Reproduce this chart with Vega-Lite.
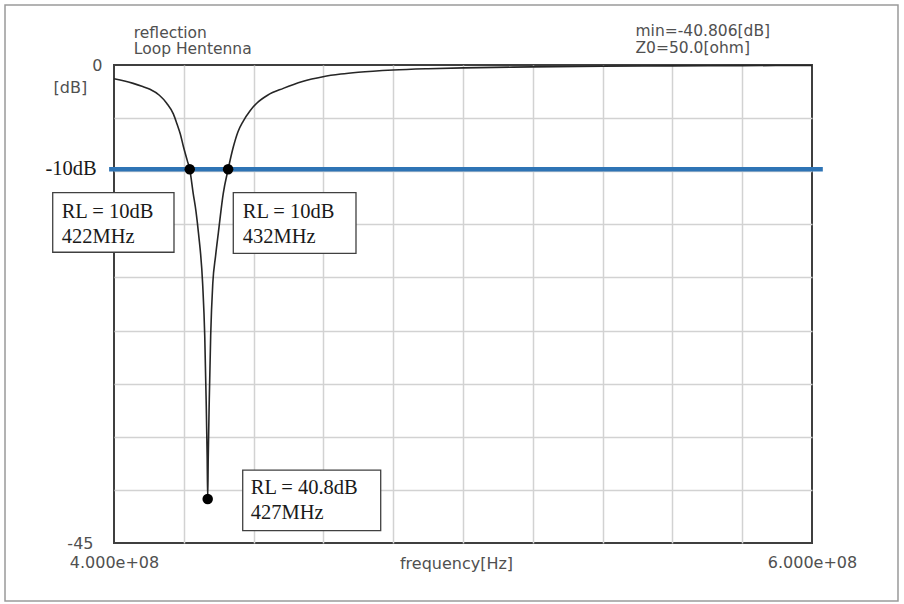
{
  "$schema": "https://vega.github.io/schema/vega-lite/v6.json",
  "width": 698,
  "height": 478,
  "autosize": {"type": "none"},
  "padding": {"left": 114, "top": 65, "right": 92, "bottom": 61},
  "background": "white",
  "config": {
    "view": {"stroke": "#3f3f3f", "strokeWidth": 2},
    "axis": {"labelFont": "DejaVu Sans", "titleFont": "DejaVu Sans", "labelFontSize": 16, "titleFontSize": 16, "labelColor": "#505050", "titleColor": "#505050", "titleFontWeight": "normal", "ticks": false, "tickSize": 0, "domain": false}
  },
  "datasets": {
    "curve": [
      {"f": 400, "db": -1.3}, {"f": 403, "db": -1.5}, {"f": 405.5, "db": -1.73}, {"f": 408, "db": -2.0},
      {"f": 410.3, "db": -2.29}, {"f": 413, "db": -2.85}, {"f": 415.1, "db": -3.6}, {"f": 417, "db": -4.6},
      {"f": 418, "db": -5.5}, {"f": 419, "db": -6.5}, {"f": 419.9, "db": -7.7}, {"f": 421, "db": -9.0},
      {"f": 421.7, "db": -9.82}, {"f": 422.7, "db": -12.1}, {"f": 423.5, "db": -13.8}, {"f": 424.2, "db": -15.8},
      {"f": 425.4, "db": -20.6}, {"f": 426, "db": -25.5}, {"f": 426.4, "db": -31.5}, {"f": 426.7, "db": -37},
      {"f": 426.85, "db": -40.85}, {"f": 427.0, "db": -37}, {"f": 427.3, "db": -31.5}, {"f": 427.7, "db": -25.5},
      {"f": 428.3, "db": -20.6}, {"f": 429.1, "db": -18.0}, {"f": 429.9, "db": -15.8}, {"f": 431.3, "db": -12.1},
      {"f": 432.7, "db": -9.82}, {"f": 434.2, "db": -7.7}, {"f": 435.5, "db": -6.3}, {"f": 437, "db": -5.3},
      {"f": 439, "db": -4.3}, {"f": 440.9, "db": -3.6}, {"f": 444, "db": -2.85}, {"f": 448.5, "db": -2.2},
      {"f": 454, "db": -1.55}, {"f": 459.9, "db": -1.1}, {"f": 465, "db": -0.85}, {"f": 470, "db": -0.68},
      {"f": 480, "db": -0.47}, {"f": 490, "db": -0.35}, {"f": 500, "db": -0.27}, {"f": 520, "db": -0.18},
      {"f": 540, "db": -0.12}, {"f": 560, "db": -0.08}, {"f": 580, "db": -0.06}, {"f": 600, "db": -0.04}
    ],
    "markers": [
      {"f": 421.7, "db": -9.82}, {"f": 432.7, "db": -9.82}, {"f": 426.85, "db": -40.85}
    ],
    "threshold": [{"f1": 398.6, "f2": 603.1, "db": -9.82}],
    "boxes": [
      {"f1": 382.44, "f2": 417.19, "db1": -12.02, "db2": -17.63},
      {"f1": 434.18, "f2": 469.34, "db1": -12.02, "db2": -17.73},
      {"f1": 436.88, "f2": 476.42, "db1": -38.13, "db2": -43.84}
    ],
    "boxtext": [
      {"f": 385.0, "db": -13.81, "text": "RL = 10dB"},
      {"f": 385.0, "db": -16.16, "text": "422MHz"},
      {"f": 436.88, "db": -13.81, "text": "RL = 10dB"},
      {"f": 436.88, "db": -16.16, "text": "432MHz"},
      {"f": 439.17, "db": -39.85, "text": "RL = 40.8dB"},
      {"f": 439.17, "db": -42.2, "text": "427MHz"}
    ],
    "level": [{"f": 395.04, "db": -9.75, "text": "-10dB"}],
    "frame": [{}]
  },
  "resolve": {"axis": {"x": "independent", "y": "independent"}},
  "layer": [
    {
      "data": {"name": "frame"},
      "mark": {"type": "rect", "fill": null, "fillOpacity": 0, "stroke": "#9a9a9a", "strokeWidth": 1.5},
      "encoding": {
        "x": {"datum": 368.77, "type": "quantitative", "scale": {"domain": [400, 600], "nice": false, "zero": false}, "axis": null},
        "x2": {"datum": 624.64},
        "y": {"datum": 5.65, "type": "quantitative", "scale": {"domain": [-45, 0], "nice": false, "zero": false}, "axis": null},
        "y2": {"datum": -50.46}
      }
    },
    {
      "data": {"name": "curve"},
      "mark": {"type": "line", "color": "#262626", "strokeWidth": 1.6, "interpolate": "monotone"},
      "encoding": {
        "x": {"field": "f", "type": "quantitative", "scale": {"domain": [400, 600], "nice": false, "zero": false},
          "axis": {"orient": "bottom", "values": [400, 420, 440, 460, 480, 500, 520, 540, 560, 580, 600],
            "labelExpr": "datum.value == 400 ? '4.000e+08' : datum.value == 600 ? '6.000e+08' : ''",
            "labelPadding": 11, "labelFlush": false,
            "grid": true, "gridColor": "#d2d2d2", "gridWidth": 1.5,
            "gridOpacity": {"condition": {"test": "datum.value == 400 || datum.value == 600", "value": 0}, "value": 1},
            "title": "frequency[Hz]", "titleX": 342, "titleY": 25, "titleBaseline": "alphabetic", "titleAlign": "center"}},
        "y": {"field": "db", "type": "quantitative", "scale": {"domain": [-45, 0], "nice": false, "zero": false},
          "axis": {"orient": "left", "values": [-45, -40, -35, -30, -25, -20, -15, -10, -5, 0],
            "labelExpr": "datum.value == 0 ? '0' : datum.value == -45 ? '-45' : ''",
            "labelPadding": {"condition": {"test": "datum.value == 0", "value": 12}, "value": 21},
            "labelFlush": false, "labelBaseline": "middle",
            "grid": true, "gridColor": "#d2d2d2", "gridWidth": 1.5,
            "gridOpacity": {"condition": {"test": "datum.value == 0 || datum.value == -45", "value": 0}, "value": 1},
            "title": "[dB]", "titleAngle": 0, "titleX": -61, "titleY": 22, "titleAlign": "left", "titleBaseline": "middle"}}
      }
    },
    {
      "data": {"name": "threshold"},
      "mark": {"type": "rule", "color": "#2e74b5", "strokeWidth": 4.5},
      "encoding": {
        "x": {"field": "f1", "type": "quantitative", "scale": {"domain": [400, 600], "nice": false, "zero": false},
          "axis": {"orient": "top", "labels": false, "grid": false, "title": ["reflection", "Loop Hentenna"],
            "titleFontSize": 15.5, "titleX": 19.3, "titleY": -27.8, "titleAlign": "left", "titleBaseline": "alphabetic", "titleLineHeight": 16.5, "titleAngle": 0}},
        "x2": {"field": "f2"},
        "y": {"field": "db", "type": "quantitative", "scale": {"domain": [-45, 0], "nice": false, "zero": false},
          "axis": {"orient": "right", "labels": false, "grid": false, "title": ["min=-40.806[dB]", "Z0=50.0[ohm]"],
            "titleFontSize": 15.5, "titleX": -177, "titleY": -29.5, "titleAlign": "left", "titleBaseline": "alphabetic", "titleLineHeight": 16.5, "titleAngle": 0}}
      }
    },
    {
      "data": {"name": "markers"},
      "mark": {"type": "circle", "color": "#000000", "opacity": 1, "size": 110},
      "encoding": {
        "x": {"field": "f", "type": "quantitative", "scale": {"domain": [400, 600], "nice": false, "zero": false}, "axis": null},
        "y": {"field": "db", "type": "quantitative", "scale": {"domain": [-45, 0], "nice": false, "zero": false}, "axis": null}
      }
    },
    {
      "data": {"name": "boxes"},
      "mark": {"type": "rect", "fill": "white", "stroke": "#404040", "strokeWidth": 1.3},
      "encoding": {
        "x": {"field": "f1", "type": "quantitative", "scale": {"domain": [400, 600], "nice": false, "zero": false}, "axis": null},
        "x2": {"field": "f2"},
        "y": {"field": "db1", "type": "quantitative", "scale": {"domain": [-45, 0], "nice": false, "zero": false}, "axis": null},
        "y2": {"field": "db2"}
      }
    },
    {
      "data": {"name": "boxtext"},
      "mark": {"type": "text", "font": "Liberation Serif", "fontSize": 20.5, "color": "#1a1a1a", "align": "left", "baseline": "middle"},
      "encoding": {
        "x": {"field": "f", "type": "quantitative", "scale": {"domain": [400, 600], "nice": false, "zero": false}, "axis": null},
        "y": {"field": "db", "type": "quantitative", "scale": {"domain": [-45, 0], "nice": false, "zero": false}, "axis": null},
        "text": {"field": "text"}
      }
    },
    {
      "data": {"name": "level"},
      "mark": {"type": "text", "font": "Liberation Serif", "fontSize": 20.5, "color": "#1a1a1a", "align": "right", "baseline": "middle"},
      "encoding": {
        "x": {"field": "f", "type": "quantitative", "scale": {"domain": [400, 600], "nice": false, "zero": false}, "axis": null},
        "y": {"field": "db", "type": "quantitative", "scale": {"domain": [-45, 0], "nice": false, "zero": false}, "axis": null},
        "text": {"field": "text"}
      }
    }
  ]
}
